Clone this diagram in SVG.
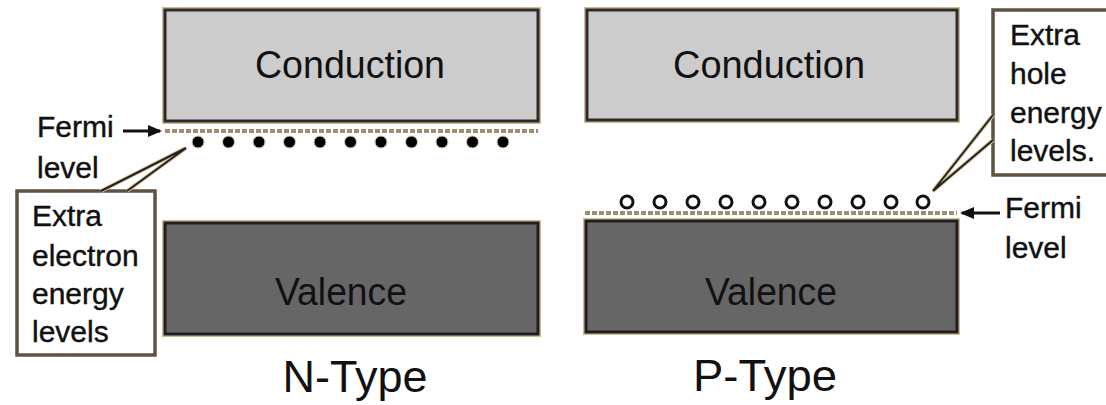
<svg xmlns="http://www.w3.org/2000/svg" width="1106" height="405" viewBox="0 0 1106 405">
<defs>
<style>
.halo{fill:none;stroke:#cdbb95;stroke-width:6}
.cond{fill:#cccccc;stroke:#2b2b2b;stroke-width:3}
.val{fill:#666666;stroke:#1e1e1e;stroke-width:3}
.call{fill:#ffffff;stroke:#5e5240;stroke-width:3.5}
.t{font-family:"Liberation Sans",Arial,sans-serif;fill:#111111}
.band{font-size:38px;text-anchor:middle}
.lbl{font-size:30px;stroke:#111;stroke-width:0.4}
.title{font-size:44px;text-anchor:middle}
.fermi{fill:none;stroke:#9c8f73;stroke-width:4;stroke-dasharray:5 2}
.ptr{fill:none;stroke:#222;stroke-width:2}
.ptrh{fill:none;stroke:#d4c29c;stroke-width:4}
.arr{stroke:#111;stroke-width:3;fill:none}
.elec{fill:#000;stroke:#d8c8a4;stroke-width:1}
.hole{fill:#fff;stroke:#111;stroke-width:3}
</style>
<marker id="ah" markerWidth="14" markerHeight="12" refX="12" refY="6" orient="auto" markerUnits="userSpaceOnUse">
<path d="M0,0 L14,6 L0,12 Z" fill="#111"/>
</marker>
</defs>
<rect width="1106" height="405" fill="#ffffff"/>

<g id="n-conduction">
<rect class="halo" x="165" y="10" width="373" height="111"/>
<rect class="cond" x="165" y="10" width="373" height="111"/>
<text class="t band" x="350" y="78" textLength="190" lengthAdjust="spacingAndGlyphs">Conduction</text>
</g>
<g id="n-valence">
<rect class="halo" x="165" y="223" width="373" height="111"/>
<rect class="val" x="165" y="223" width="373" height="111"/>
<text class="t band" x="341" y="305" textLength="132" lengthAdjust="spacingAndGlyphs">Valence</text>
</g>
<g id="p-conduction">
<rect class="halo" x="587" y="10" width="370" height="110"/>
<rect class="cond" x="587" y="10" width="370" height="110"/>
<text class="t band" x="769" y="78" textLength="192" lengthAdjust="spacingAndGlyphs">Conduction</text>
</g>
<g id="p-valence">
<rect class="halo" x="586" y="221" width="371" height="111"/>
<rect class="val" x="586" y="221" width="371" height="111"/>
<text class="t band" x="771" y="305" textLength="132" lengthAdjust="spacingAndGlyphs">Valence</text>
</g>

<g id="n-fermi-line">
<line class="fermi" x1="165" y1="131" x2="538" y2="131"/>
</g>
<g id="n-electrons">
<circle class="elec" cx="198" cy="142" r="6"/>
<circle class="elec" cx="228.5" cy="142" r="6"/>
<circle class="elec" cx="259" cy="142" r="6"/>
<circle class="elec" cx="289.5" cy="142" r="6"/>
<circle class="elec" cx="320" cy="142" r="6"/>
<circle class="elec" cx="350.5" cy="142" r="6"/>
<circle class="elec" cx="381" cy="142" r="6"/>
<circle class="elec" cx="411.5" cy="142" r="6"/>
<circle class="elec" cx="442" cy="142" r="6"/>
<circle class="elec" cx="472.5" cy="142" r="6"/>
<circle class="elec" cx="503" cy="142" r="6"/>
</g>

<g id="p-fermi-line">
<line class="fermi" x1="585" y1="213" x2="957" y2="213"/>
</g>
<g id="p-holes">
<circle class="hole" cx="627" cy="202" r="6"/>
<circle class="hole" cx="660" cy="202" r="6"/>
<circle class="hole" cx="693" cy="202" r="6"/>
<circle class="hole" cx="726" cy="202" r="6"/>
<circle class="hole" cx="759" cy="202" r="6"/>
<circle class="hole" cx="792" cy="202" r="6"/>
<circle class="hole" cx="825" cy="202" r="6"/>
<circle class="hole" cx="858" cy="202" r="6"/>
<circle class="hole" cx="891" cy="202" r="6"/>
<circle class="hole" cx="923" cy="202" r="6"/>
</g>

<g id="n-fermi-label">
<text class="t lbl" x="37" y="137">Fermi</text>
<text class="t lbl" x="37" y="178">level</text>
</g>
<g id="n-callout">
<rect class="call" x="17" y="191" width="138" height="164"/>
<text class="t lbl" x="32" y="226">Extra</text>
<text class="t lbl" x="32" y="266">electron</text>
<text class="t lbl" x="32" y="304">energy</text>
<text class="t lbl" x="32" y="342">levels</text>
</g>
<g id="p-fermi-label">
<text class="t lbl" x="1005" y="218">Fermi</text>
<text class="t lbl" x="1005" y="258">level</text>
</g>
<g id="p-callout">
<rect class="call" x="993" y="10" width="120" height="165"/>
<text class="t lbl" x="1010" y="45">Extra</text>
<text class="t lbl" x="1010" y="84">hole</text>
<text class="t lbl" x="1010" y="123">energy</text>
<text class="t lbl" x="1010" y="161">levels.</text>
</g>

<g id="connectors">
<line class="arr" x1="123" y1="131" x2="160" y2="131" marker-end="url(#ah)"/>
<line class="arr" x1="1000" y1="213" x2="962" y2="213" marker-end="url(#ah)"/>
<polyline class="ptrh" points="101,191 186,148 127,191"/>
<polyline class="ptr" points="101,191 186,148 127,191"/>
<polyline class="ptrh" points="993,115 933,191 993,140"/>
<polyline class="ptr" points="993,115 933,191 993,140"/>
</g>

<g id="titles">
<text class="t title" x="355" y="392" textLength="145" lengthAdjust="spacingAndGlyphs">N-Type</text>
<text class="t title" x="765" y="391" textLength="144" lengthAdjust="spacingAndGlyphs">P-Type</text>
</g>
</svg>
